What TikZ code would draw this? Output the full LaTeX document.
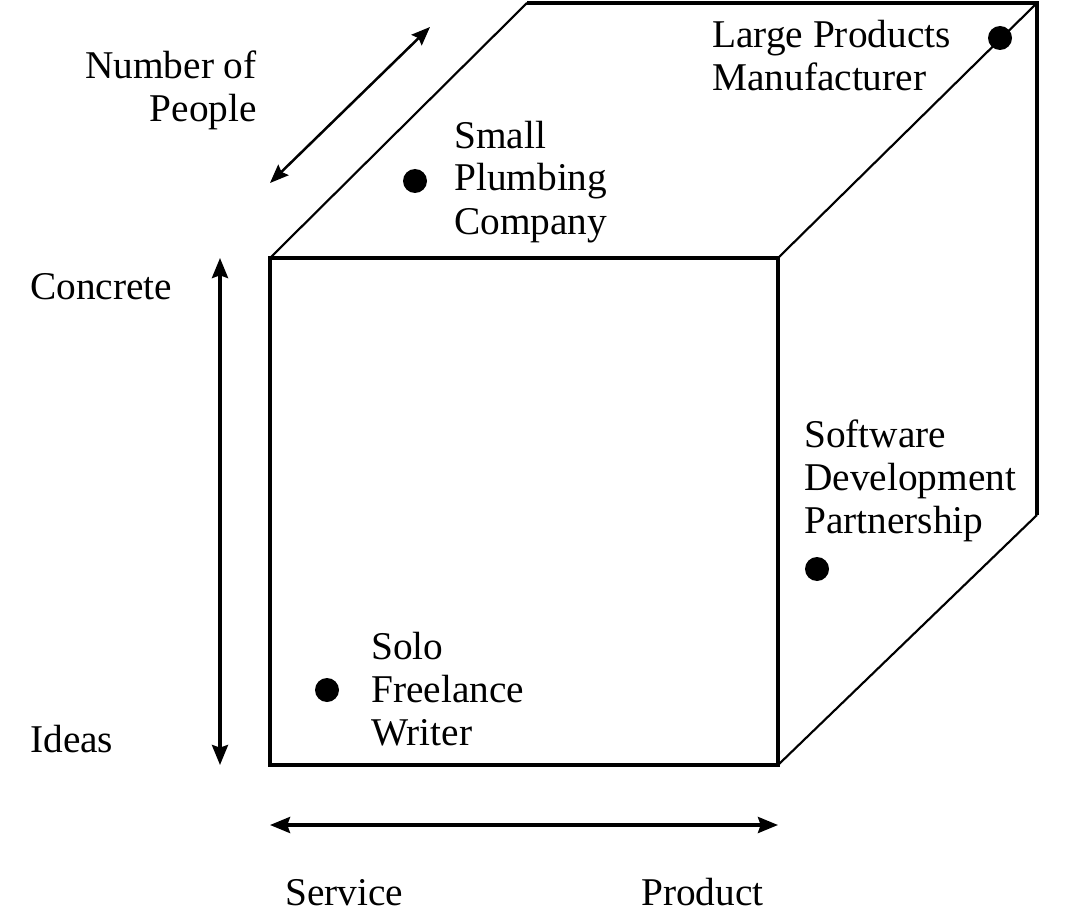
\documentclass[tikz,border=0pt]{standalone}
\usepackage{fontspec}
\setmainfont{Liberation Serif}
\usetikzlibrary{arrows.meta}
\begin{document}
\begin{tikzpicture}[x=0.75pt,y=-0.75pt,
  frontedge/.style={line width=3pt, line join=miter},
  backedge/.style={line width=1.6pt},
  tip/.tip={Stealth[length=15pt,width=12pt,inset=2pt]},
  axis/.style={line width=2.6pt, tip-tip},
  depthaxis/.style={line width=1.9pt, {Stealth[length=14pt,width=11pt,inset=2pt]}-{Stealth[length=14pt,width=11pt,inset=2pt]}},
  lbl/.style={font=\fontsize{29.5}{32.25}\selectfont, inner sep=0pt, align=left, anchor=base west},
  rlbl/.style={font=\fontsize{29.5}{32.25}\selectfont, inner sep=0pt, align=right, anchor=base east},
  dot/.style={circle, fill=black, minimum size=18pt, inner sep=0pt}
]
\useasboundingbox (0,0) rectangle (1068,913);
% cube corners
\coordinate (ftl) at (270,258);
\coordinate (ftr) at (778,258);
\coordinate (fbr) at (778,765);
\coordinate (fbl) at (270,765);
\coordinate (btl) at (527,3);
\coordinate (btr) at (1037,3);
\coordinate (bbr) at (1037,515);
% receding edges
\draw[backedge] (ftl) -- (btl);
\draw[backedge] (ftr) -- (btr);
\draw[backedge] (fbr) -- (bbr);
% back edges
\draw[frontedge] (btl) -- (btr) -- (bbr);
% front face
\draw[frontedge] (ftl) -- (ftr) -- (fbr) -- (fbl) -- cycle;
% axes
\coordinate (vtop) at (220,258);
\coordinate (vbot) at (220,765);
\coordinate (hl) at (270,825);
\coordinate (hr) at (778,825);
\coordinate (dlo) at (270,183);
\coordinate (dhi) at (430,27);
\draw[axis] (vtop) -- (vbot);
\draw[axis] (hl) -- (hr);
\draw[depthaxis] (dlo) -- (dhi);
% axis labels
\node[rlbl] (npeople) at (257,122) {Number of\\People};
\node[lbl] (concrete) at (30,300) {Concrete};
\node[lbl] (ideas) at (30,752) {Ideas};
\node[lbl] (service) at (285,905) {Service};
\node[lbl] (product) at (641,905) {Product};
% dots and labels
\node[dot] (dsmall) at (415,181) {};
\node[lbl] (tsmall) at (454,234) {Small\\Plumbing\\Company};
\node[dot] (dlarge) at (1000,38) {};
\node[lbl] (tlarge) at (712,91) {Large Products\\Manufacturer};
\node[dot] (dsoft) at (817,569) {};
\node[lbl] (tsoft) at (804,533) {Software\\Development\\Partnership};
\node[dot] (dsolo) at (327,690) {};
\node[lbl] (tsolo) at (371,745) {Solo\\Freelance\\Writer};
\end{tikzpicture}
\end{document}
